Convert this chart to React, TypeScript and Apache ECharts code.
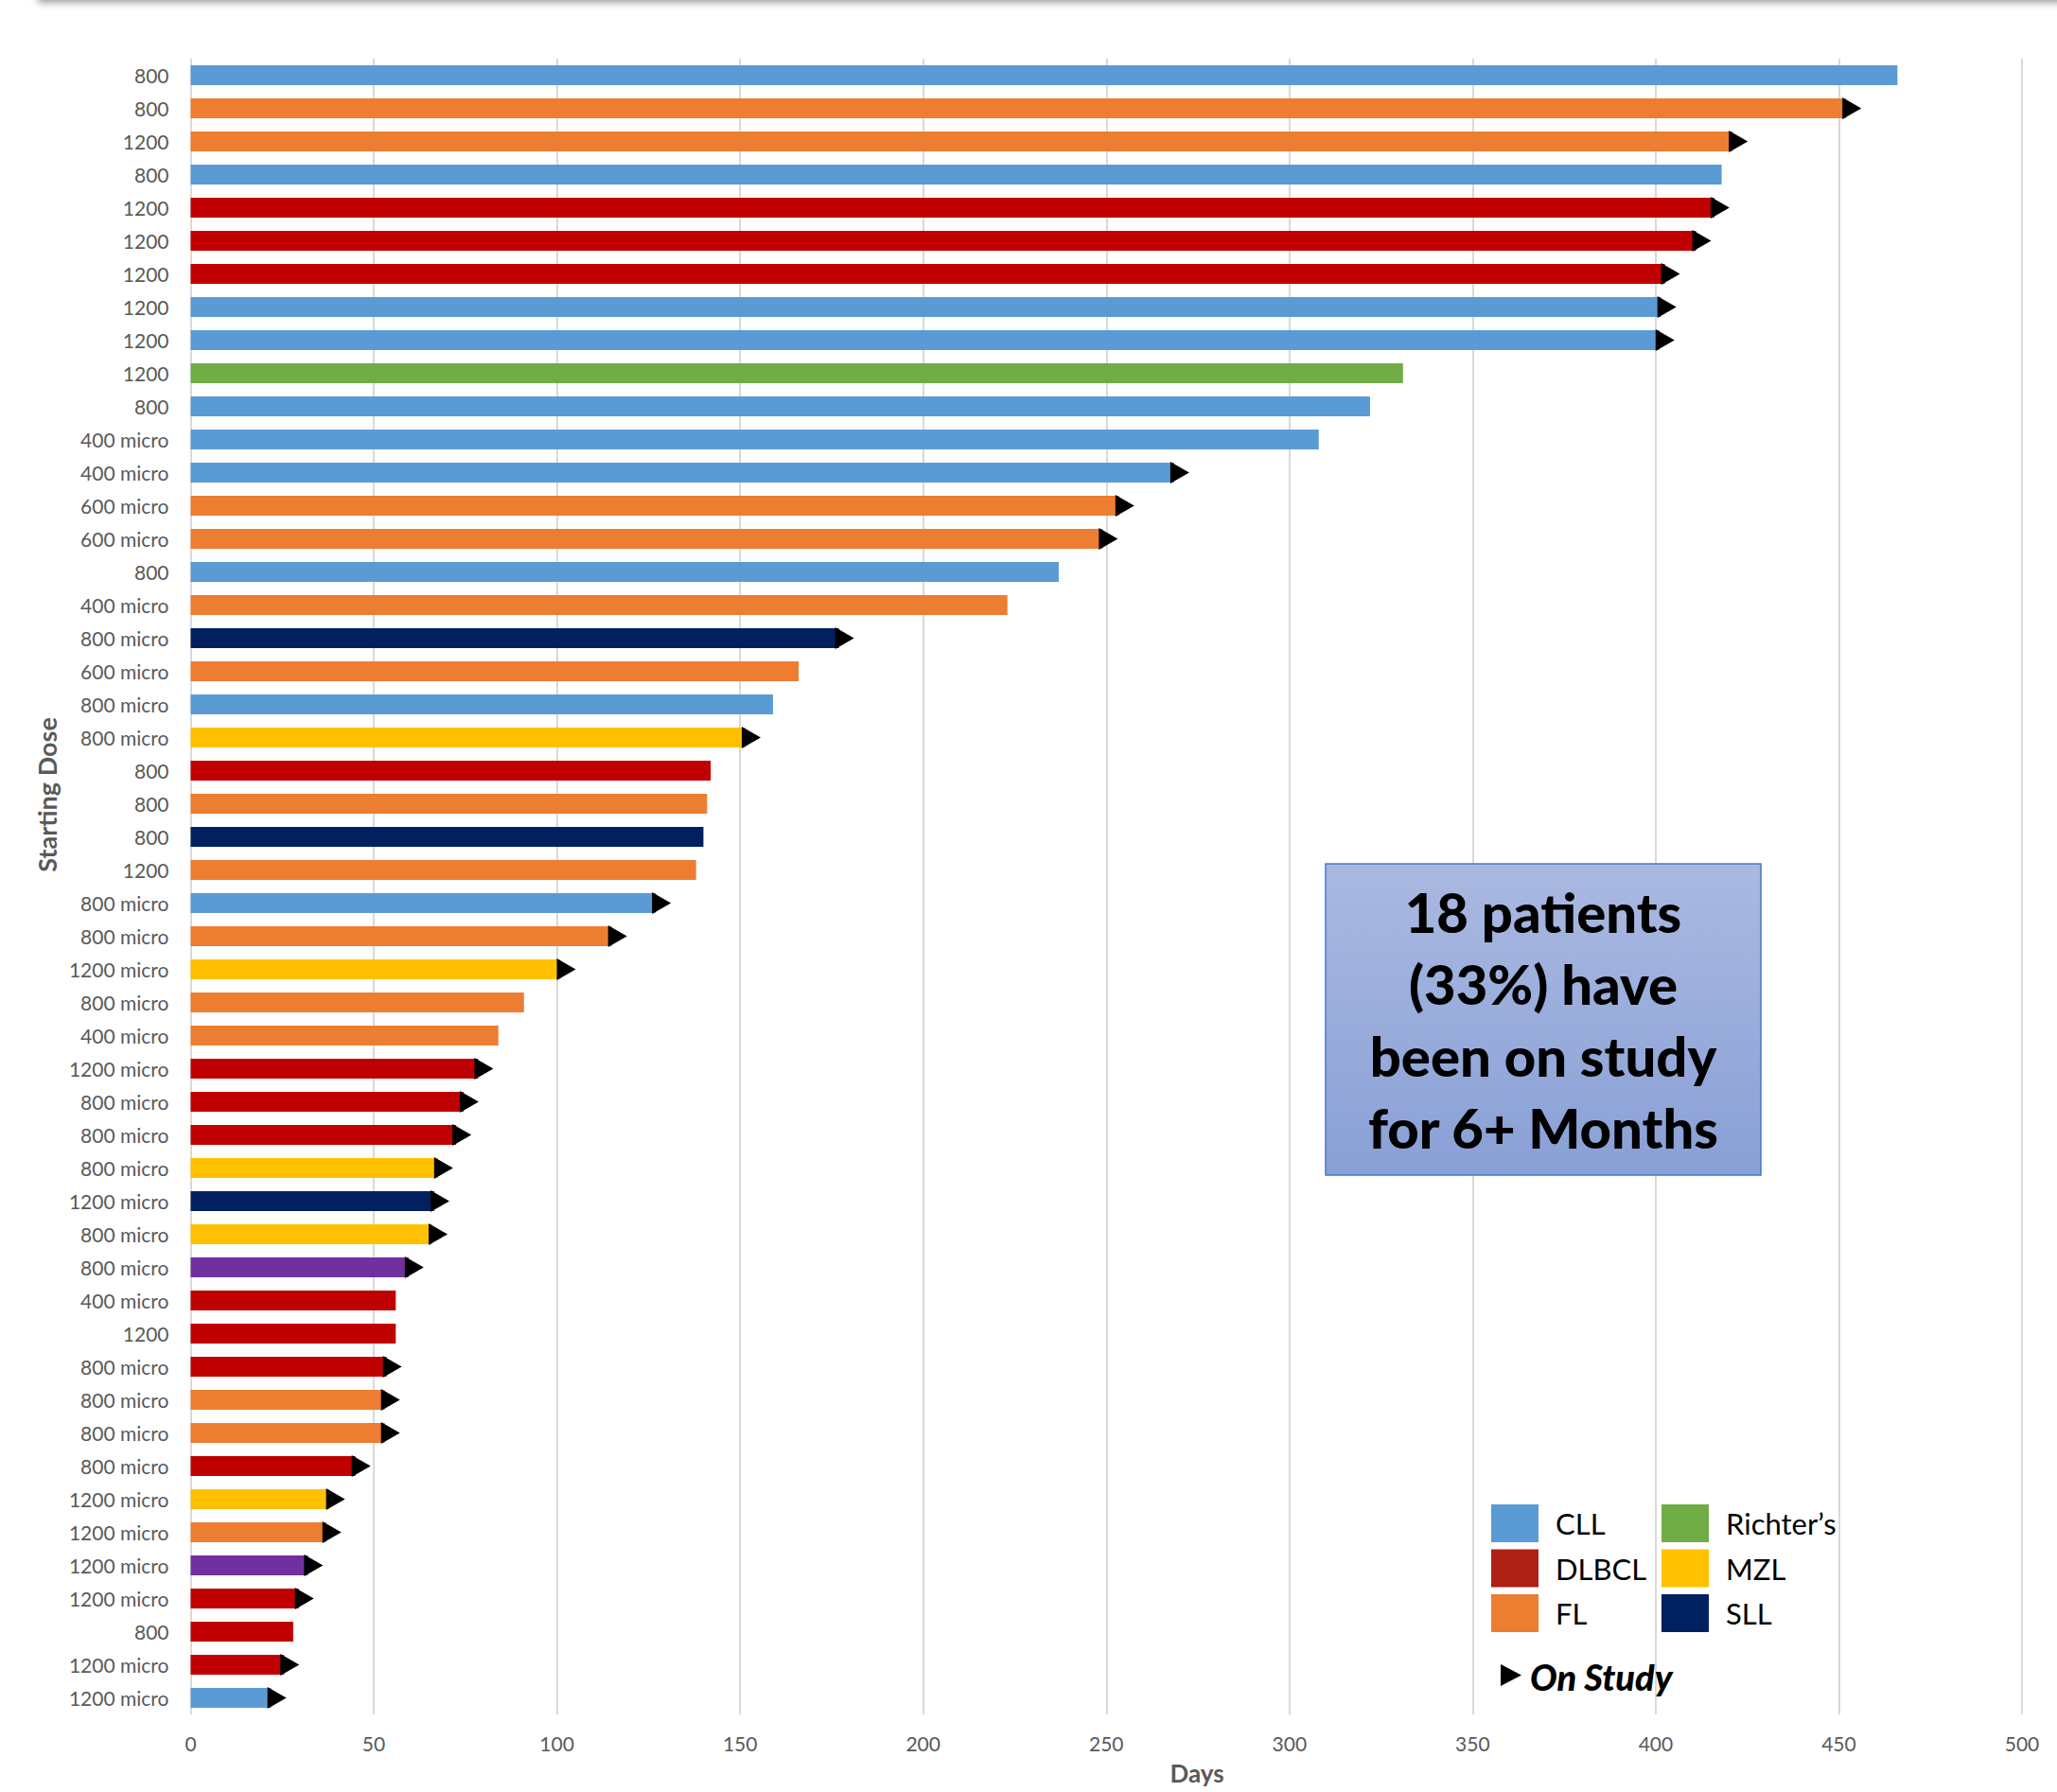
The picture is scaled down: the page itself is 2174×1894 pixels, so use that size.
import React, { useEffect, useRef } from "react";
import * as echarts from "echarts";

// ---------- data ----------
const doses: string[] = [
  "800", "800", "1200", "800", "1200", "1200", "1200", "1200", "1200", "1200",
  "800", "400 micro", "400 micro", "600 micro", "600 micro", "800", "400 micro", "800 micro", "600 micro", "800 micro",
  "800 micro", "800", "800", "800", "1200", "800 micro", "800 micro", "1200 micro", "800 micro", "400 micro",
  "1200 micro", "800 micro", "800 micro", "800 micro", "1200 micro", "800 micro", "800 micro", "400 micro", "1200", "800 micro",
  "800 micro", "800 micro", "800 micro", "1200 micro", "1200 micro", "1200 micro", "1200 micro", "800", "1200 micro", "1200 micro",
];

const days: number[] = [
  466, 452, 421, 418, 416, 411, 402.5, 401.5, 401, 331,
  322, 308, 268.5, 253.5, 249, 237, 223, 177, 166, 159,
  151.5, 142, 141, 140, 138, 127, 115, 101, 91, 84,
  78.5, 74.5, 72.5, 67.5, 66.5, 66, 59.5, 56, 56, 53.5,
  53, 53, 45, 38, 37, 32, 29.5, 28, 25.5, 22,
];

const diseases: string[] = [
  "CLL", "FL", "FL", "CLL", "DLBCL", "DLBCL", "DLBCL", "CLL", "CLL", "Richter’s",
  "CLL", "CLL", "CLL", "FL", "FL", "CLL", "FL", "SLL", "FL", "CLL",
  "MZL", "DLBCL", "FL", "SLL", "FL", "CLL", "FL", "MZL", "FL", "FL",
  "DLBCL", "DLBCL", "DLBCL", "MZL", "SLL", "MZL", "Other", "DLBCL", "DLBCL", "DLBCL",
  "FL", "FL", "DLBCL", "MZL", "FL", "Other", "DLBCL", "DLBCL", "DLBCL", "CLL",
];

const onStudy: number[] = [
  0, 1, 1, 0, 1, 1, 1, 1, 1, 0,
  0, 0, 1, 1, 1, 0, 0, 1, 0, 0,
  1, 0, 0, 0, 0, 1, 1, 1, 0, 0,
  1, 1, 1, 1, 1, 1, 1, 0, 0, 1,
  1, 1, 1, 1, 1, 1, 1, 0, 1, 1,
];

const legendNames: string[] = ["CLL", "DLBCL", "FL", "Richter’s", "MZL", "SLL"];
const xTicks = { min: 0, max: 500, interval: 50 };
const calloutLines: string[] = ["18 patients", "(33%) have", "been on study", "for 6+ Months"];
const onStudyLabel = "On Study";
const yAxisTitle = "Starting Dose";
const xAxisTitle = "Days";

// ---------- styles ----------
const barColors: Record<string, string> = {
  CLL: "#5B9BD5",
  DLBCL: "#C00000",
  FL: "#ED7D31",
  "Richter’s": "#70AD47",
  MZL: "#FFC000",
  SLL: "#002060",
  Other: "#7030A0",
};
const legendColors: Record<string, string> = { ...barColors, DLBCL: "#AE1F14" };
const FONT = "Lato";
const AXIS_GRAY = "#595959";

export default function App() {
  const ref = useRef<HTMLDivElement>(null);

  useEffect(() => {
    if (!ref.current) return;
    const chart = echarts.init(ref.current, undefined, { renderer: "svg" });

    const barData = days.map((d, i) => ({
      value: d,
      itemStyle: { color: barColors[diseases[i]] },
    }));
    const arrowData: number[][] = [];
    days.forEach((d, i) => {
      if (onStudy[i]) arrowData.push([d, i]);
    });

    // legend graphics (2 columns x 3 rows)
    const legendEls: any[] = [];
    legendNames.forEach((name, i) => {
      const col = Math.floor(i / 3);
      const row = i % 3;
      const sx = 1576 + col * 180;
      const sy = 1590 + row * 47.5;
      legendEls.push({
        type: "rect",
        z: 100,
        shape: { x: sx, y: sy, width: 50, height: 40 },
        style: { fill: legendColors[name] },
        silent: true,
      });
      legendEls.push({
        type: "text",
        z: 100,
        x: sx + 68,
        y: sy + 20,
        style: {
          text: name,
          fill: "#000",
          font: `31px ${FONT}`,
          textAlign: "left",
          textVerticalAlign: "middle",
        },
        silent: true,
      });
    });
    legendEls.push({
      type: "polygon",
      z: 100,
      shape: { points: [[1586, 1759], [1608, 1770.5], [1586, 1782]] },
      style: { fill: "#000" },
      silent: true,
    });
    legendEls.push({
      type: "text",
      z: 100,
      x: 1617,
      y: 1772,
      style: {
        text: onStudyLabel,
        fill: "#000",
        font: `italic 900 38px ${FONT}`,
        textAlign: "left",
        textVerticalAlign: "middle",
      },
      silent: true,
    });

    const calloutEls: any[] = [
      {
        type: "rect",
        z: 100,
        shape: { x: 1401, y: 913, width: 460, height: 329 },
        style: {
          fill: new echarts.graphic.LinearGradient(0, 0, 0, 1, [
            { offset: 0, color: "#AAB9E1" },
            { offset: 1, color: "#89A0D6" },
          ]),
          stroke: "#4A76C6",
          lineWidth: 1.5,
        },
        silent: true,
      },
      ...calloutLines.map((line, i) => ({
        type: "text",
        z: 101,
        x: 1631,
        y: 963 + i * 76.3,
        style: {
          text: line,
          fill: "#000",
          font: `900 58px ${FONT}`,
          textAlign: "center",
          textVerticalAlign: "middle",
        },
        silent: true,
      })),
    ];

    const option: any = {
      animation: false,
      backgroundColor: "#ffffff",
      textStyle: { fontFamily: FONT },
      grid: { left: 201.5, right: 37, top: 62, bottom: 82, containLabel: false },
      xAxis: {
        type: "value",
        min: xTicks.min,
        max: xTicks.max,
        interval: xTicks.interval,
        axisLine: { show: false },
        axisTick: { show: false },
        axisLabel: { color: AXIS_GRAY, fontSize: 21, fontFamily: FONT, margin: 20 },
        splitLine: { show: true, lineStyle: { color: "#D9D9D9", width: 2 } },
      },
      yAxis: {
        type: "category",
        inverse: true,
        data: doses,
        axisLine: { show: false },
        axisTick: { show: false },
        splitLine: { show: false },
        axisLabel: { color: AXIS_GRAY, fontSize: 21, fontFamily: FONT, margin: 23, interval: 0 },
      },
      series: [
        {
          type: "bar",
          data: barData,
          barWidth: 21,
          silent: true,
          z: 2,
        },
        {
          type: "scatter",
          data: arrowData,
          symbol: "path://M0,0L1,0.5L0,1Z",
          symbolSize: [20, 23],
          symbolOffset: [6, 0],
          itemStyle: { color: "#000000", opacity: 1 },
          silent: true,
          z: 3,
        },
      ],
      graphic: [
        {
          type: "rect",
          z: 100,
          shape: { x: 40, y: -30, width: 2200, height: 30 },
          style: {
            fill: "#ffffff",
            shadowBlur: 8,
            shadowColor: "rgba(0,0,0,0.45)",
            shadowOffsetY: 2,
          },
          silent: true,
        },
        {
          type: "text",
          z: 100,
          x: 49.5,
          y: 840,
          rotation: Math.PI / 2,
          style: {
            text: yAxisTitle,
            fill: AXIS_GRAY,
            font: `bold 27px ${FONT}`,
            textAlign: "center",
            textVerticalAlign: "middle",
          },
          silent: true,
        },
        {
          type: "text",
          z: 100,
          x: 1265,
          y: 1887,
          style: {
            text: xAxisTitle,
            fill: AXIS_GRAY,
            font: `bold 26px ${FONT}`,
            textAlign: "center",
            textVerticalAlign: "bottom",
          },
          silent: true,
        },
        ...calloutEls,
        ...legendEls,
      ],
    };

    chart.setOption(option);
    return () => chart.dispose();
  }, []);

  return (
    <div
      ref={ref}
      style={{ position: "fixed", left: 0, top: 0, width: 2174, height: 1894, background: "#fff" }}
    />
  );
}
